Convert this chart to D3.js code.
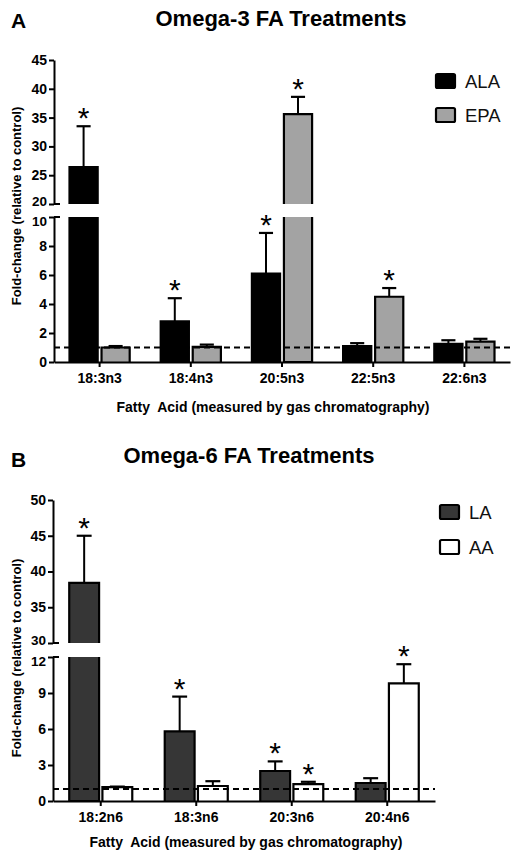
<!DOCTYPE html>
<html><head><meta charset="utf-8">
<script src="https://cdn.jsdelivr.net/npm/d3@7"></script>
<style>body{margin:0;background:#fff}svg{display:block;font-family:"Liberation Sans",Arial,sans-serif}</style>
</head><body><svg id="c" width="520" height="861"></svg>
<script>
// ---- Panel A data ----
const catsA = ["18:3n3","18:4n3","20:5n3","22:5n3","22:6n3"];
const seriesA = ["ALA","EPA"];
const colorsA = ["#000000","#a3a3a3"];
const alaMean = [26.4, 2.8, 6.1, 1.1, 1.25];
const alaErr  = [33.5, 4.4, 8.9, 1.3, 1.5];
const alaSig  = [true, true, true, false, false];
const epaMean = [1.0, 1.05, 35.6, 4.5, 1.4];
const epaErr  = [1.1, 1.2, 38.6, 5.1, 1.6];
const epaSig  = [false, false, true, true, false];
const ticksLowA = [0,2,4,6,8,10];
const ticksHighA = [20,25,30,35,40,45];

// ---- Panel B data ----
const catsB = ["18:2n6","18:3n6","20:3n6","20:4n6"];
const seriesB = ["LA","AA"];
const colorsB = ["#363636","#ffffff"];
const laMean = [38.4, 5.8, 2.5, 1.5];
const laErr  = [45.0, 8.7, 3.3, 1.9];
const laSig  = [true, true, true, false];
const aaMean = [1.15, 1.25, 1.4, 9.8];
const aaErr  = [1.2, 1.65, 1.6, 11.4];
const aaSig  = [false, false, true, true];
const ticksLowB = [0,3,6,9,12];
const ticksHighB = [30,35,40,45,50];

const svg = d3.select("#c");

function panel(o){
  const g = svg.append("g");
  const x0 = d3.scaleBand().domain(o.cats).range([o.xL, o.xR]).paddingInner(0.34).paddingOuter(0.17);
  const x1 = d3.scaleBand().domain(o.series).range([0, x0.bandwidth()]).paddingInner(o.innerPad);
  const yLow = d3.scaleLinear().domain([0, o.lowMax]).range([o.y0, o.yBL]);
  const yHigh = d3.scaleLinear().domain([o.highMin, o.highMax]).range([o.yBH, o.yTop]);
  const Y = v => v <= o.lowMax ? yLow(v) : yHigh(v);

  // letter + title
  g.append("text").attr("x", o.letterX).attr("y", o.letterY).attr("font-size", 21).attr("font-weight","bold").text(o.letter);
  g.append("text").attr("x", o.titleX).attr("y", o.titleY).attr("text-anchor","middle").attr("font-size", 22).attr("font-weight","bold").text(o.title);

  // bars
  o.series.forEach((s, si) => {
    const means = o.means[si], errs = o.errs[si], sig = o.sig[si];
    o.cats.forEach((c, ci) => {
      const v = means[ci];
      const xl = x0(c) + x1(s), w = x1.bandwidth(), xr = xl + w;
      const seg = [];
      if (v > o.lowMax){
        seg.push({top: yLow(o.lowMax), bot: yLow(0), openTop: true});
        seg.push({top: yHigh(v), bot: yHigh(o.highMin), openBot: true});
      } else {
        seg.push({top: yLow(v), bot: yLow(0)});
      }
      const ey = Y(errs[ci]), ty = Y(v), xc = xl + w/2;
      g.append("line").attr("x1", xc).attr("x2", xc).attr("y1", ty).attr("y2", ey).attr("stroke","#000").attr("stroke-width",2);
      g.append("line").attr("x1", xc - w*0.25).attr("x2", xc + w*0.25).attr("y1", ey).attr("y2", ey).attr("stroke","#000").attr("stroke-width",2.2);
      seg.forEach(sg => {
        g.append("rect").attr("x", xl).attr("y", sg.top).attr("width", w).attr("height", sg.bot - sg.top).attr("fill", o.colors[si]);
        let p;
        if (sg.openTop) p = `M${xl},${sg.top}V${sg.bot}H${xr}V${sg.top}`;
        else if (sg.openBot) p = `M${xl},${sg.bot}V${sg.top}H${xr}V${sg.bot}`;
        else p = `M${xl},${sg.bot}V${sg.top}H${xr}V${sg.bot}`;
        g.append("path").attr("d", p).attr("fill","none").attr("stroke","#000").attr("stroke-width",2.2);
      });
      if (sig[ci]){
        g.append("text").attr("x", xc).attr("y", ey + 2).attr("text-anchor","middle").attr("font-size", 30).text("*");
      }
    });
  });

  // dashed reference line at 1
  g.append("line").attr("x1", o.xL).attr("x2", o.xR).attr("y1", yLow(1)).attr("y2", yLow(1))
    .attr("stroke","#000").attr("stroke-width",2).attr("stroke-dasharray","6,4");

  // y axes
  const styleAxis = a => {
    a.selectAll("path").attr("stroke","#000").attr("stroke-width",2);
    a.selectAll("line").attr("stroke","#000").attr("stroke-width",2);
    a.selectAll("text").attr("font-size",14).attr("font-weight","bold").attr("font-family","Liberation Sans, Arial, sans-serif").attr("fill","#000");
  };
  const aL = g.append("g").attr("transform",`translate(${o.xL},0)`)
    .call(d3.axisLeft(yLow).tickValues(o.ticksLow).tickSize(5).tickSizeOuter(0).tickPadding(2));
  styleAxis(aL);
  aL.selectAll(".tick").filter(d => d === o.lowMax).select("text").attr("dy","0.62em").attr("font-size",13.5);
  const aH = g.append("g").attr("transform",`translate(${o.xL},0)`)
    .call(d3.axisLeft(yHigh).tickValues(o.ticksHigh).tickSize(5).tickSizeOuter(0).tickPadding(2));
  styleAxis(aH);
  aH.selectAll(".tick").filter(d => d === o.highMin).select("text").attr("dy","0.1em").attr("font-size",13.5);
  [yLow(o.lowMax), yHigh(o.highMin)].forEach(yy => {
    g.append("line").attr("x1", o.xL).attr("x2", o.xL + 6).attr("y1", yy).attr("y2", yy).attr("stroke","#000").attr("stroke-width",2);
  });

  // x axis
  const xa = g.append("g").attr("transform",`translate(0,${o.y0})`)
    .call(d3.axisBottom(x0).tickSize(5).tickSizeOuter(0).tickPadding(6));
  styleAxis(xa);

  // axis titles
  g.append("text").attr("transform",`translate(${o.ylabX},${o.ylabY}) rotate(-90)`).attr("text-anchor","middle")
    .attr("font-size",13).attr("font-weight","bold").text("Fold-change (relative to control)");
  g.append("text").attr("x", o.xlabX).attr("y", o.xlabY).attr("text-anchor","middle")
    .attr("font-size",14).attr("font-weight","bold").attr("xml:space","preserve").text("Fatty  Acid (measured by gas chromatography)");

  // legend
  o.series.forEach((s, si) => {
    const ly = o.legY + si * o.legStep;
    g.append("rect").attr("x", o.legX).attr("y", ly).attr("width", 19).attr("height", 14).attr("rx",1.5)
      .attr("fill", o.colors[si]).attr("stroke","#000").attr("stroke-width",2.2);
    g.append("text").attr("x", o.legX + 29).attr("y", ly + 13.5).attr("font-size",18.5).attr("fill","#111").text(s);
  });
}

panel({
  cats: catsA, series: seriesA, colors: colorsA,
  means: [alaMean, epaMean], errs: [alaErr, epaErr], sig: [alaSig, epaSig],
  ticksLow: ticksLowA, ticksHigh: ticksHighA,
  lowMax: 10, highMin: 20, highMax: 45,
  xL: 54, xR: 510, y0: 362, yBL: 217, yBH: 204, yTop: 60, innerPad: 0.12,
  letter: "A", letterX: 11, letterY: 28, title: "Omega-3 FA Treatments", titleX: 281, titleY: 26,
  ylabX: 21, ylabY: 206, xlabX: 273, xlabY: 412,
  legX: 436, legY: 74, legStep: 34
});
panel({
  cats: catsB, series: seriesB, colors: colorsB,
  means: [laMean, aaMean], errs: [laErr, aaErr], sig: [laSig, aaSig],
  ticksLow: ticksLowB, ticksHigh: ticksHighB,
  lowMax: 12, highMin: 30, highMax: 50,
  xL: 53, xR: 435, y0: 801, yBL: 657, yBH: 643, yTop: 500, innerPad: 0.1,
  letter: "B", letterX: 11, letterY: 467, title: "Omega-6 FA Treatments", titleX: 249, titleY: 463,
  ylabX: 21, ylabY: 658, xlabX: 246, xlabY: 847,
  legX: 440, legY: 505, legStep: 35
});
</script></body></html>
